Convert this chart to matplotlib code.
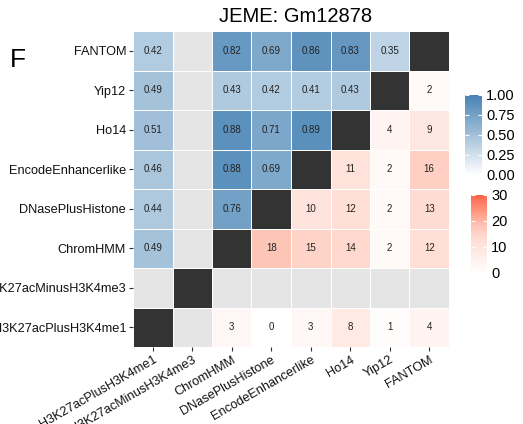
import numpy as np
import matplotlib
import matplotlib.pyplot as plt
from matplotlib.colors import LinearSegmentedColormap, ListedColormap, Normalize

matplotlib.use('Agg')
plt.rcParams['font.family'] = ['Liberation Sans', 'DejaVu Sans']

# Enhancer sets, in the order they are placed along the x axis
methods = ['H3K27acPlusH3K4me1', 'H3K27acMinusH3K4me3', 'ChromHMM', 'DNasePlusHistone',
           'EncodeEnhancerlike', 'Ho14', 'Yip12', 'FANTOM']
row_labels = methods[::-1]  # FANTOM at the top

# Correlations (upper-left triangle); nan = not available
corr_fantom = [0.42, np.nan, 0.82, 0.69, 0.86, 0.83, 0.35, np.nan]
corr_yip12 = [0.49, np.nan, 0.43, 0.42, 0.41, 0.43, np.nan, np.nan]
corr_ho14 = [0.51, np.nan, 0.88, 0.71, 0.89, np.nan, np.nan, np.nan]
corr_encode = [0.46, np.nan, 0.88, 0.69, np.nan, np.nan, np.nan, np.nan]
corr_dnase = [0.44, np.nan, 0.76, np.nan, np.nan, np.nan, np.nan, np.nan]
corr_chromhmm = [0.49, np.nan, np.nan, np.nan, np.nan, np.nan, np.nan, np.nan]
corr_minus = [np.nan] * 8
corr_plus = [np.nan] * 8

# Overlap counts (lower-right triangle)
count_fantom = [np.nan] * 8
count_yip12 = [np.nan, np.nan, np.nan, np.nan, np.nan, np.nan, np.nan, 2]
count_ho14 = [np.nan, np.nan, np.nan, np.nan, np.nan, np.nan, 4, 9]
count_encode = [np.nan, np.nan, np.nan, np.nan, np.nan, 11, 2, 16]
count_dnase = [np.nan, np.nan, np.nan, np.nan, 10, 12, 2, 13]
count_chromhmm = [np.nan, np.nan, np.nan, 18, 15, 14, 2, 12]
count_minus = [np.nan] * 8
count_plus = [np.nan, np.nan, 3, 0, 3, 8, 1, 4]

corr = np.array([corr_fantom, corr_yip12, corr_ho14, corr_encode,
                 corr_dnase, corr_chromhmm, corr_minus, corr_plus])
counts = np.array([count_fantom, count_yip12, count_ho14, count_encode,
                   count_dnase, count_chromhmm, count_minus, count_plus])

n = len(methods)
# 0 = missing (grey), 1 = diagonal (dark)
base = np.zeros((n, n))
for r, name in enumerate(row_labels):
    base[r, methods.index(name)] = 1

blue_cmap = LinearSegmentedColormap.from_list('blues', ['#FFFFFF', '#4682B4'])
red_cmap = LinearSegmentedColormap.from_list(
    'reds', [(0, '#FFFFFF'), (0.45, '#FFDBD1'), (0.6, '#FDC5B6'), (1, '#FF6347')])
blue_norm = Normalize(0, 1)
red_norm = Normalize(0, 30)

fig = plt.figure(figsize=(5.23, 4.24), dpi=100)
ax = fig.add_axes([133 / 523, 1 - 347 / 424, 316 / 523, 316 / 424])

x = np.arange(n + 1)
y = np.arange(n + 1)
lw = 0.7
# rows are drawn top-down, so flip the y coordinates
ax.pcolormesh(x, y, base[::-1], cmap=ListedColormap(['#E5E5E5', '#333333']),
              vmin=0, vmax=1, edgecolors='white', linewidth=lw)
ax.pcolormesh(x, y, np.ma.masked_invalid(corr[::-1]), cmap=blue_cmap, norm=blue_norm,
              edgecolors='white', linewidth=lw)
ax.pcolormesh(x, y, np.ma.masked_invalid(counts[::-1]), cmap=red_cmap, norm=red_norm,
              edgecolors='white', linewidth=lw)

for r in range(n):
    for c in range(n):
        yy = n - 1 - r + 0.5
        if not np.isnan(corr[r, c]):
            ax.text(c + 0.5, yy, f'{corr[r, c]:.2f}', ha='center', va='center',
                    fontsize=7, color='#222222')
        elif not np.isnan(counts[r, c]):
            ax.text(c + 0.5, yy, f'{int(counts[r, c])}', ha='center', va='center',
                    fontsize=7, color='#222222')

ax.set_xlim(0, n)
ax.set_ylim(0, n)
ax.set_xticks(np.arange(n) + 0.5)
ax.set_xticklabels(methods, rotation=30, ha='right', rotation_mode='anchor')
ax.set_yticks(np.arange(n) + 0.5)
ax.set_yticklabels(row_labels[::-1])
ax.tick_params(length=3, width=0.8, color='#333333', labelsize=9.2, labelcolor='#111111', pad=2)
for s in ax.spines.values():
    s.set_visible(False)

fig.text(296 / 523, 1 - 16 / 424, 'JEME: Gm12878', ha='center', va='center', fontsize=14.5)
fig.text(10 / 523, 1 - 60 / 424, 'F', ha='left', va='center', fontsize=19)

# Legends: correlation scale and count scale
cax1 = fig.add_axes([465 / 523, 1 - 175 / 424, 17 / 523, 80 / 424])
cb1 = fig.colorbar(matplotlib.cm.ScalarMappable(norm=blue_norm, cmap=blue_cmap), cax=cax1,
                   ticks=[0, 0.25, 0.5, 0.75, 1.0])
cb1.ax.set_yticklabels(['0.00', '0.25', '0.50', '0.75', '1.00'])

cax2 = fig.add_axes([471 / 523, 1 - 273 / 424, 16 / 523, 78 / 424])
cb2 = fig.colorbar(matplotlib.cm.ScalarMappable(norm=red_norm, cmap=red_cmap), cax=cax2,
                   ticks=[0, 10, 20, 30])

for cb in (cb1, cb2):
    cb.outline.set_visible(False)
    cb.ax.yaxis.set_ticks_position('both')
    cb.ax.tick_params(direction='in', color='white', length=3, width=0.8,
                      labelsize=10.5, pad=3, labelright=True, labelleft=False)

fig.savefig('out.png', dpi=100)
